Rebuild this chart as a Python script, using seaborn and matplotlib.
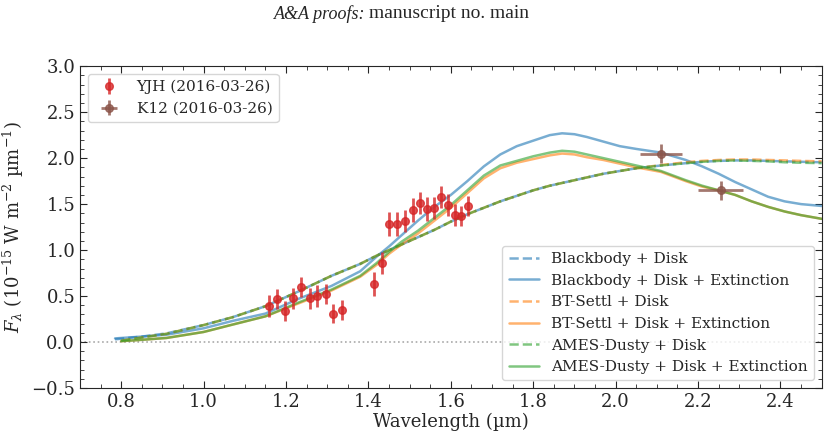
import numpy as np
import matplotlib
matplotlib.use("Agg")
import matplotlib.pyplot as plt
import seaborn as sns
from matplotlib.ticker import MultipleLocator

# YJH spectrum (2016-03-26)
yjh_wl = [1.159, 1.179, 1.198, 1.216, 1.237, 1.257, 1.276, 1.296, 1.315, 1.335,
          1.413, 1.432, 1.451, 1.470, 1.489, 1.507, 1.525, 1.543, 1.559, 1.577,
          1.593, 1.610, 1.624, 1.641]
yjh_flux = [0.39, 0.47, 0.34, 0.475, 0.60, 0.475, 0.50, 0.52, 0.31, 0.35,
            0.63, 0.855, 1.28, 1.28, 1.32, 1.44, 1.51, 1.45, 1.46, 1.58,
            1.49, 1.38, 1.37, 1.48]
yjh_err = [0.12, 0.11, 0.11, 0.11, 0.11, 0.11, 0.12, 0.11, 0.10, 0.11,
           0.13, 0.12, 0.13, 0.13, 0.12, 0.13, 0.12, 0.13, 0.12, 0.12,
           0.12, 0.12, 0.11, 0.11]

# K12 photometry (2016-03-26)
k12_wl = [2.110, 2.255]
k12_flux = [2.05, 1.65]
k12_xerr = [0.05, 0.054]
k12_yerr = [0.10, 0.10]

# model curves
wl_bb = [0.785, 0.85, 0.91, 1.00, 1.07, 1.15, 1.23, 1.31, 1.38, 1.42, 1.45, 1.48,
         1.52, 1.56, 1.60, 1.64, 1.68, 1.72, 1.76, 1.80, 1.84, 1.87, 1.90, 1.93,
         1.97, 2.01, 2.05, 2.11, 2.17, 2.21, 2.25, 2.29, 2.33, 2.37, 2.41, 2.45,
         2.50]
wl_mod = [0.80, 0.85, 0.91, 1.00, 1.07, 1.15, 1.23, 1.31, 1.38, 1.42, 1.45, 1.48,
          1.52, 1.56, 1.60, 1.64, 1.68, 1.72, 1.76, 1.80, 1.84, 1.87, 1.90, 1.93,
          1.97, 2.01, 2.05, 2.11, 2.17, 2.21, 2.25, 2.29, 2.33, 2.37, 2.41, 2.45,
          2.50]

bb_disk = [0.03, 0.06, 0.095, 0.185, 0.27, 0.39, 0.55, 0.72, 0.85, 0.94, 1.00, 1.06,
           1.14, 1.22, 1.31, 1.39, 1.46, 1.53, 1.59, 1.65, 1.70, 1.73, 1.76, 1.79,
           1.83, 1.86, 1.89, 1.92, 1.945, 1.96, 1.97, 1.975, 1.975, 1.97, 1.965, 1.96,
           1.955]
bb_ext = [0.04, 0.06, 0.08, 0.15, 0.23, 0.31, 0.47, 0.61, 0.77, 0.93, 1.04, 1.16,
          1.32, 1.47, 1.60, 1.75, 1.91, 2.04, 2.13, 2.19, 2.25, 2.27, 2.26, 2.23,
          2.18, 2.13, 2.10, 2.06, 1.98, 1.91, 1.83, 1.74, 1.66, 1.58, 1.53, 1.50,
          1.48]
settl_disk = [0.015, 0.05, 0.09, 0.185, 0.27, 0.39, 0.55, 0.72, 0.85, 0.94, 1.00, 1.06,
              1.14, 1.22, 1.31, 1.39, 1.46, 1.53, 1.59, 1.65, 1.70, 1.73, 1.76, 1.79,
              1.83, 1.86, 1.89, 1.925, 1.955, 1.97, 1.98, 1.985, 1.985, 1.98, 1.975, 1.97,
              1.965]
settl_ext = [0.01, 0.025, 0.045, 0.11, 0.19, 0.28, 0.42, 0.56, 0.71, 0.84, 0.96, 1.06,
             1.18, 1.32, 1.46, 1.62, 1.78, 1.89, 1.95, 1.99, 2.03, 2.05, 2.04, 2.01,
             1.98, 1.94, 1.90, 1.85, 1.75, 1.69, 1.65, 1.60, 1.53, 1.47, 1.42, 1.38,
             1.34]
ames_disk = [0.015, 0.05, 0.09, 0.185, 0.27, 0.39, 0.55, 0.72, 0.85, 0.94, 1.00, 1.06,
             1.14, 1.22, 1.31, 1.39, 1.46, 1.53, 1.59, 1.65, 1.70, 1.73, 1.76, 1.79,
             1.83, 1.86, 1.89, 1.92, 1.945, 1.96, 1.97, 1.975, 1.97, 1.965, 1.955, 1.95,
             1.945]
ames_ext = [0.01, 0.025, 0.045, 0.11, 0.19, 0.28, 0.43, 0.57, 0.72, 0.86, 0.98, 1.09,
            1.21, 1.35, 1.49, 1.65, 1.81, 1.92, 1.97, 2.02, 2.06, 2.08, 2.07, 2.04,
            2.00, 1.96, 1.92, 1.86, 1.76, 1.70, 1.65, 1.60, 1.53, 1.47, 1.42, 1.38,
            1.34]

sns.set_style("ticks")
plt.rcParams['font.family'] = ['DejaVu Serif']
plt.rcParams['mathtext.fontset'] = 'dejavuserif'

fig, ax = plt.subplots(figsize=(8.3, 4.41), dpi=100)
fig.subplots_adjust(left=0.0964, right=0.990, top=0.850, bottom=0.120)

ax.axhline(0, color='darkgray', ls=':', lw=1.2, zorder=0)

lw = 1.8
sns.lineplot(x=wl_bb, y=bb_disk, ax=ax, color='tab:blue', ls='--', lw=lw, alpha=0.6,
             label='Blackbody + Disk', sort=False)
sns.lineplot(x=wl_bb, y=bb_ext, ax=ax, color='tab:blue', lw=lw, alpha=0.6,
             label='Blackbody + Disk + Extinction', sort=False)
sns.lineplot(x=wl_mod, y=settl_disk, ax=ax, color='tab:orange', ls='--', lw=lw, alpha=0.6,
             label='BT-Settl + Disk', sort=False)
sns.lineplot(x=wl_mod, y=settl_ext, ax=ax, color='tab:orange', lw=lw, alpha=0.6,
             label='BT-Settl + Disk + Extinction', sort=False)
sns.lineplot(x=wl_mod, y=ames_disk, ax=ax, color='tab:green', ls='--', lw=lw, alpha=0.6,
             label='AMES-Dusty + Disk', sort=False)
sns.lineplot(x=wl_mod, y=ames_ext, ax=ax, color='tab:green', lw=lw, alpha=0.6,
             label='AMES-Dusty + Disk + Extinction', sort=False)
line_handles, line_labels = ax.get_legend_handles_labels()

e1 = ax.errorbar(yjh_wl, yjh_flux, yerr=yjh_err, fmt='o', color='tab:red', ms=5.5,
                 elinewidth=2, capsize=0, alpha=0.8, zorder=5)
e2 = ax.errorbar(k12_wl, k12_flux, xerr=k12_xerr, yerr=k12_yerr, fmt='o', color='tab:brown',
                 ms=5.5, elinewidth=2, capsize=0, alpha=0.8, zorder=5)

leg1 = ax.legend([e1, e2], ['YJH (2016-03-26)', 'K12 (2016-03-26)'], loc='upper left',
                 fontsize=11)
ax.add_artist(leg1)
ax.legend(line_handles, line_labels, loc='lower right', fontsize=11)

ax.set_xlim(0.7, 2.5)
ax.set_ylim(-0.5, 3.0)
ax.xaxis.set_major_locator(MultipleLocator(0.2))
ax.xaxis.set_minor_locator(MultipleLocator(0.05))
ax.yaxis.set_major_locator(MultipleLocator(0.5))
ax.yaxis.set_minor_locator(MultipleLocator(0.1))
ax.tick_params(which='both', direction='in', top=True, right=True, labelsize=13)
ax.tick_params(which='major', length=5)
ax.tick_params(which='minor', length=3)

ax.set_xlabel('Wavelength (µm)', fontsize=13, labelpad=1)
ax.set_ylabel(r'$F_\lambda$ ($10^{-15}$ W m$^{-2}$ µm$^{-1}$)', fontsize=13)

# running header
fig.text(365 / 830, 1 - 14 / 441, 'A&A proofs:', ha='right', va='center',
         family='Liberation Serif', style='italic', fontsize=13)
fig.text(369 / 830, 1 - 14 / 441, 'manuscript no. main', ha='left', va='center',
         family='Liberation Serif', fontsize=14)

fig.savefig('out.png', dpi=100)
